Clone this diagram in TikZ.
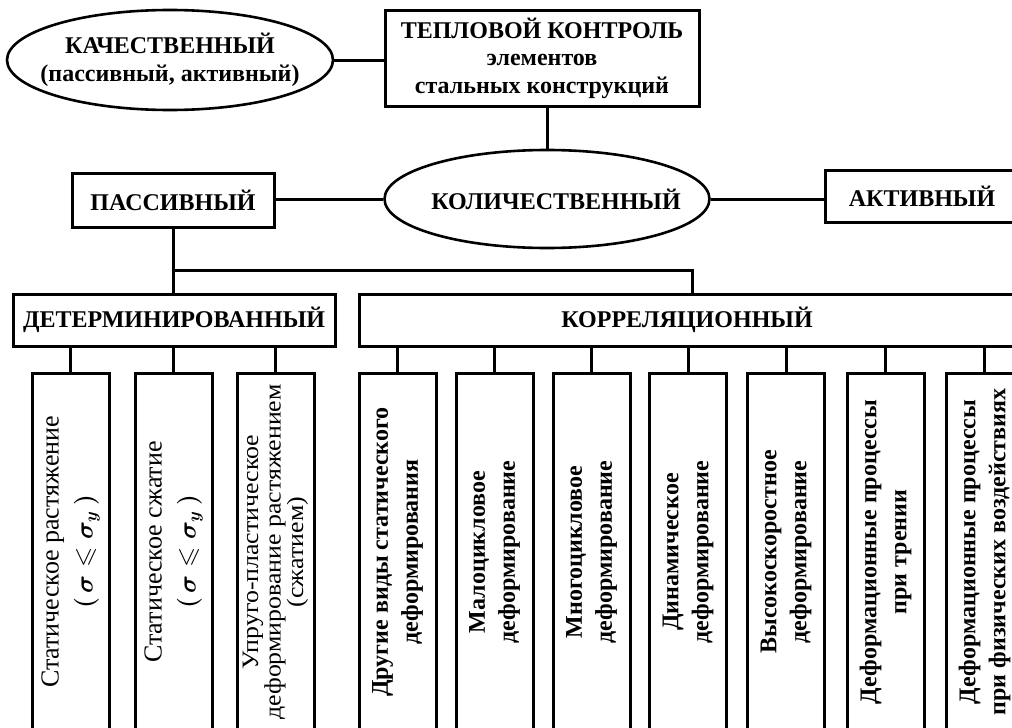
\documentclass[tikz,border=0pt]{standalone}
\usepackage{amsmath,amssymb}
\usepackage{fontspec}
\setmainfont{Liberation Serif}
\newfontfamily\widefont[FakeStretch=1.1]{Liberation Serif}
\usetikzlibrary{shapes.geometric}
\begin{document}
\begin{tikzpicture}[x=1pt,y=-1pt,line width=3pt,
  lbl/.style={font=\fontsize{24}{27.5}\selectfont\bfseries,align=center,inner sep=0pt},
  boxnode/.style={lbl,draw,rectangle},
  ovalnode/.style={draw,ellipse,inner sep=0pt,line width=2.6pt},
  vboxnode/.style={draw,rectangle,rotate=90,minimum width=358pt,minimum height=77pt,
    inner sep=0pt,align=center,font=\fontsize{24}{30}\selectfont\bfseries},
  vreg/.style={vboxnode,font=\fontsize{26}{34}\selectfont},
  vtight/.style={vboxnode,font=\widefont\fontsize{23.5}{22.5}\selectfont}
  ]
\useasboundingbox (0,0) rectangle (1012,728);
\clip (0,0) rectangle (1012,728);
\fill[white] (0,0) rectangle (1012,728);

\node[ovalnode,minimum width=326pt,minimum height=100pt] (kach) at (170,60) {};
\node[lbl] (kacht) at (kach.center) {КАЧЕСТВЕННЫЙ\\(пассивный, активный)};
\node[boxnode,minimum width=314pt,minimum height=96pt] (top) at (542,58)
  {ТЕПЛОВОЙ КОНТРОЛЬ\\элементов\\стальных конструкций};
\node[ovalnode,minimum width=325pt,minimum height=98pt] (kol) at (547,199) {};
\node[lbl] (kolt) at (556,199) {КОЛИЧЕСТВЕННЫЙ};
\node[boxnode,minimum width=202pt,minimum height=54pt] (pass) at (173,200) {ПАССИВНЫЙ};
\node[boxnode,minimum width=194pt,minimum height=52pt] (akt) at (922,196) {АКТИВНЫЙ};
\node[boxnode,minimum width=322pt,minimum height=52pt] (det) at (174,320) {ДЕТЕРМИНИРОВАННЫЙ};
\node[boxnode,minimum width=656pt,minimum height=52pt] (korr) at (687,320) {КОРРЕЛЯЦИОННЫЙ};

\node[vreg] (b1) at (70.5,552)
  {Статическое растяжение\\{\bfseries\boldmath$(\,\sigma\leqslant\sigma_y\,)$}};
\node[vreg] (b2) at (173.5,552)
  {Статическое сжатие\\{\bfseries\boldmath$(\,\sigma\leqslant\sigma_y\,)$}};
\node[vtight] (b3) at (275.5,552)
  {Упруго-пластическое\\деформирование растяжением\\(сжатием)};
\node[vboxnode] (b4) at (397.5,552) {Другие виды статического\\деформирования};
\node[vboxnode] (b5) at (494.5,552) {Малоцикловое\\деформирование};
\node[vboxnode] (b6) at (591.5,552) {Многоцикловое\\деформирование};
\node[vboxnode] (b7) at (688,552) {Динамическое\\деформирование};
\node[vboxnode] (b8) at (786,552) {Высокоскоростное\\деформирование};
\node[vboxnode] (b9) at (885.5,552) {Деформационные процессы\\при трении};
\node[vboxnode] (b10) at (984.5,552) {Деформационные процессы\\при физических воздействиях};

\draw (kach.east) -- (kach.east -| top.west);
\draw (kol.north) -- (kol.north |- top.south);
\draw (kol.west) -- (kol.west -| pass.east);
\draw (kol.east) -- (kol.east -| akt.west);
\draw (pass.south) -- (pass.south |- det.north);
\coordinate (br) at (173,270);
\draw (br) -| ([xshift=5pt]korr.north);
\foreach \b in {b1,b2,b3}
  \draw (\b.east) -- (\b.east |- det.south);
\foreach \b in {b4,b5,b6,b7,b8,b9,b10}
  \draw (\b.east) -- (\b.east |- korr.south);
\end{tikzpicture}
\end{document}
